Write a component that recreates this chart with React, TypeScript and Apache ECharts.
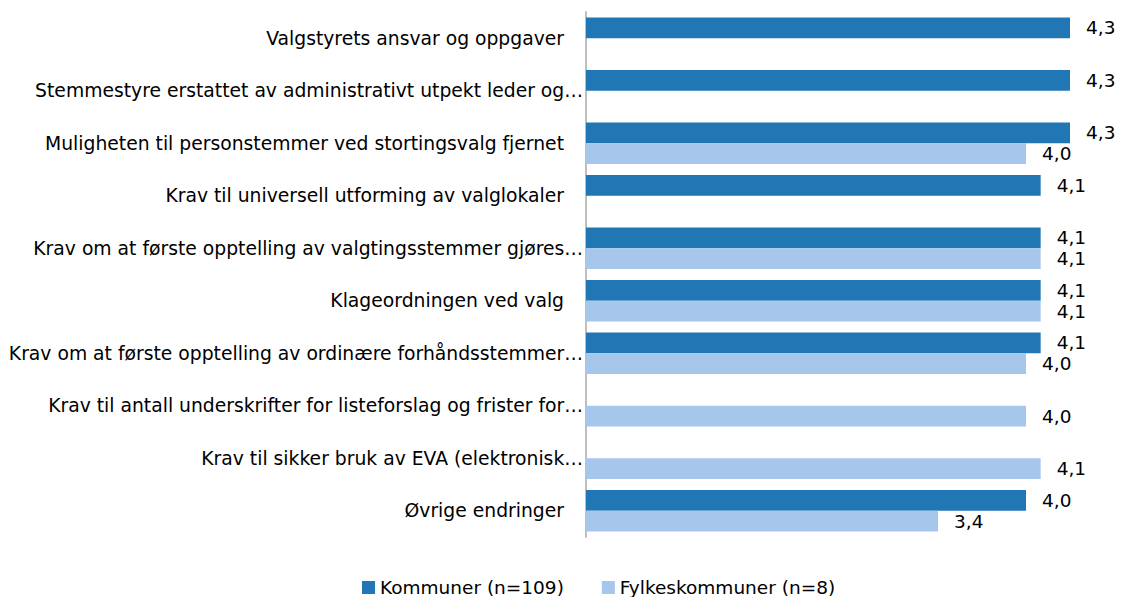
import React, { useEffect, useRef } from "react";
import * as echarts from "echarts";

const categories: string[] = [
  "Valgstyrets ansvar og oppgaver",
  "Stemmestyre erstattet av administrativt utpekt leder og…",
  "Muligheten til personstemmer ved stortingsvalg fjernet",
  "Krav til universell utforming av valglokaler",
  "Krav om at første opptelling av valgtingsstemmer gjøres…",
  "Klageordningen ved valg",
  "Krav om at første opptelling av ordinære forhåndsstemmer…",
  "Krav til antall underskrifter for listeforslag og frister for…",
  "Krav til sikker bruk av EVA (elektronisk…",
  "Øvrige endringer",
];

const kommuner: (number | null)[] = [4.3, 4.3, 4.3, 4.1, 4.1, 4.1, 4.1, null, null, 4.0];
const fylkeskommuner: (number | null)[] = [null, null, 4.0, null, 4.1, 4.1, 4.0, 4.0, 4.1, 3.4];

const seriesNames = ["Kommuner (n=109)", "Fylkeskommuner (n=8)"];
const colors = ["#2176B4", "#A6C6EC"];

const labelFont = "'DejaVu Sans', sans-serif";
const numFont = "'DejaVu Sans', sans-serif";

export default function App() {
  const ref = useRef<HTMLDivElement>(null);

  useEffect(() => {
    if (!ref.current) return;
    const chart = echarts.init(ref.current, undefined, { renderer: "svg" });
    const fmt = (v: number) => v.toFixed(1).replace(".", ",");
    const mkLabel = {
      show: true,
      position: "right" as const,
      distance: 16,
      color: "#000",
      fontSize: 18.5,
      fontFamily: numFont,
      formatter: (p: any) => (p.value == null ? "" : fmt(p.value)),
    };
    chart.setOption({
      animation: false,
      backgroundColor: "#fff",
      grid: { left: 586, right: 7, top: 12, bottom: 60, containLabel: false },
      xAxis: {
        type: "value",
        min: 1,
        max: 4.6,
        show: false,
      },
      yAxis: {
        type: "category",
        data: categories,
        inverse: true,
        axisLine: { show: true, lineStyle: { color: "#BFBFBF", width: 2 } },
        axisTick: { show: false },
        axisLabel: {
          margin: 3,
          color: "#000",
          fontSize: 18.75,
          fontFamily: labelFont,
          formatter: (v: string) => (v.endsWith("…") ? `{t|${v}}` : `{p|${v}}`),
          rich: {
            t: { fontSize: 18.75, fontFamily: labelFont, color: "#000" },
            p: { fontSize: 18.75, fontFamily: labelFont, color: "#000", padding: [0, 19, 0, 0] },
          },
        },
      },
      legend: {
        left: 362,
        top: 578,
        icon: "rect",
        itemWidth: 13,
        itemHeight: 13,
        itemGap: 38,
        padding: 0,
        textStyle: { fontSize: 18.5, fontFamily: labelFont, color: "#000" },
        data: seriesNames,
      },
      series: [
        {
          name: seriesNames[0],
          type: "bar",
          data: kommuner,
          itemStyle: { color: colors[0] },
          barGap: "0%",
          barCategoryGap: "21%",
          label: mkLabel,
        },
        {
          name: seriesNames[1],
          type: "bar",
          data: fylkeskommuner,
          itemStyle: { color: colors[1] },
          barGap: "0%",
          barCategoryGap: "21%",
          label: mkLabel,
        },
      ],
    });
    return () => chart.dispose();
  }, []);

  return (
    <div
      ref={ref}
      style={{ position: "absolute", left: 0, top: 0, width: 1121, height: 597 }}
    />
  );
}
